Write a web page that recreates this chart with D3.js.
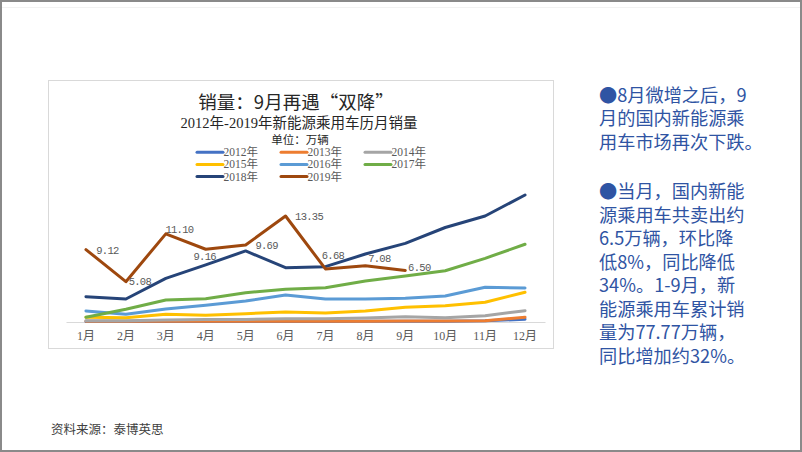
<!DOCTYPE html>
<html><head><meta charset="utf-8">
<script src="https://cdn.jsdelivr.net/npm/d3@7"></script>
<style>
html,body{margin:0;padding:0;background:#fff;}
svg{display:block;}
</style></head>
<body>
<svg id="c" width="802" height="452"></svg>
<script>
const months = ["1月","2月","3月","4月","5月","6月","7月","8月","9月","10月","11月","12月"];
const seriesNames = ["2012年","2013年","2014年","2015年","2016年","2017年","2018年","2019年"];
const s2012 = [0.05,0.05,0.06,0.06,0.07,0.07,0.07,0.08,0.1,0.1,0.15,0.34];
const s2013 = [0.1,0.08,0.1,0.1,0.1,0.1,0.1,0.1,0.12,0.12,0.15,0.6];
const s2014 = [0.17,0.15,0.25,0.3,0.33,0.4,0.42,0.5,0.67,0.55,0.8,1.42];
const s2015 = [0.6,0.55,0.97,0.84,1.05,1.26,1.13,1.39,1.85,2.05,2.48,3.74];
const s2016 = [1.39,0.97,1.64,2.1,2.64,3.4,2.9,2.9,2.98,3.27,4.37,4.28];
const s2017 = [0.6,1.6,2.77,2.93,3.69,4.12,4.32,5.16,5.79,6.46,8.02,9.79];
const s2018 = [3.19,2.9,5.5,7.2,8.95,6.84,6.97,8.56,9.9,11.9,13.35,16.0];
const s2019 = [9.12,5.08,11.10,9.16,9.69,13.35,6.68,7.08,6.50];
const labels2019 = ["9.12","5.08","11.10","9.16","9.69","13.35","6.68","7.08","6.50"];
const colors = ["#4472C4","#ED7D31","#A5A5A5","#FFC000","#5B9BD5","#70AD47","#264478","#9E480E"];
const allSeries = [s2012,s2013,s2014,s2015,s2016,s2017,s2018,s2019];
const yMax = 18;
// label offsets (style): [dx, dy] from the point to the label centre
const labelOffsets = [[21.5,1],[14,0],[13.6,-4],[-1,7.4],[21,0.7],[23.5,0.7],[7.5,-13],[14,-6.7],[14,-2]];

const svg = d3.select("#c");
svg.append("rect").attr("x",1).attr("y",1).attr("width",800).attr("height",450)
  .attr("fill","#fff").attr("stroke","#8a8a8a").attr("stroke-width",2);
svg.append("line").attr("x1",2).attr("x2",800).attr("y1",7.5).attr("y2",7.5).attr("stroke","#f2f2f2");

svg.append("rect").attr("x",48.5).attr("y",80.5).attr("width",505).attr("height",268)
  .attr("fill","#fff").attr("stroke","#d9d9d9");

const serifMix = "'Liberation Serif','Noto Sans CJK SC',serif";
const cjk = "'Noto Sans CJK SC','Noto Sans',sans-serif";
svg.append("text").attr("x",296).attr("y",101).attr("text-anchor","middle").attr("dominant-baseline","central")
  .attr("font-family",cjk).attr("font-size",18.5).attr("fill","#262626").text("销量：9月再遇“双降”");
svg.append("text").attr("x",299).attr("y",123).attr("text-anchor","middle").attr("dominant-baseline","central")
  .attr("font-family",serifMix).attr("font-size",14.5).attr("fill","#262626").text("2012年-2019年新能源乘用车历月销量");
svg.append("text").attr("x",300).attr("y",139.5).attr("text-anchor","middle").attr("dominant-baseline","central")
  .attr("font-family",serifMix).attr("font-size",11.5).attr("fill","#262626").text("单位：万辆");

const legX = [197,281,365];
const legY = [152.3,164.4,176.5];
seriesNames.forEach((n,i)=>{
  const cx = legX[i%3], cy = legY[Math.floor(i/3)];
  const g = svg.append("g");
  g.append("line").attr("x1",cx).attr("x2",cx+26).attr("y1",cy).attr("y2",cy)
    .attr("stroke",colors[i]).attr("stroke-width",3).attr("stroke-linecap","round");
  g.append("text").attr("x",cx+26.5).attr("y",cy).attr("dominant-baseline","central")
    .attr("font-family",serifMix).attr("font-size",11.5).attr("fill","#595959").text(n);
});

const x = d3.scaleBand().domain(months).range([66,545]);
const y = d3.scaleLinear().domain([0,yMax]).range([322,322-7.94*yMax]);
const cxm = m => x(m)+x.bandwidth()/2;

const axis = d3.axisBottom(x).tickSize(0).tickPadding(9);
const ax = svg.append("g").attr("transform","translate(0,322)").call(axis);
ax.select(".domain").attr("stroke","#d9d9d9").attr("stroke-width",1);
ax.selectAll("text").attr("font-family",serifMix).attr("font-size",12).attr("fill","#595959");

const line = d3.line().x((d,i)=>cxm(months[i])).y(d=>y(d));
allSeries.forEach((s,i)=>{
  svg.append("path").datum(s).attr("d",line).attr("fill","none")
    .attr("stroke",colors[i]).attr("stroke-width",3).attr("stroke-linejoin","round").attr("stroke-linecap","round");
});

s2019.forEach((v,i)=>{
  const px = cxm(months[i]), py = y(v);
  svg.append("text").attr("x",px+labelOffsets[i][0]).attr("y",py+labelOffsets[i][1])
    .attr("text-anchor","middle").attr("dominant-baseline","central")
    .attr("font-family","'Liberation Mono','DejaVu Sans Mono',monospace").attr("font-size",10.5)
    .attr("letter-spacing",-0.7).attr("fill","#595959").text(labels2019[i]);
});

svg.append("text").attr("x",51).attr("y",430).attr("dominant-baseline","central")
  .attr("font-family",serifMix).attr("font-size",12.5).attr("fill","#404040").text("资料来源：泰博英思");

const para = [
  ["●8月微增之后，9","月的国内新能源乘","用车市场再次下跌。"],
  ["●当月，国内新能","源乘用车共卖出约","6.5万辆，环比降","低8%，同比降低","34%。1-9月，新","能源乘用车累计销","量为77.77万辆，","同比增加约32%。"]
];
const startY = [93.5,190];
para.forEach((p,pi)=>{
  const t = svg.append("text").attr("x",599).attr("y",startY[pi]).attr("dominant-baseline","central")
    .attr("font-family",cjk).attr("font-size",18.2).attr("fill","#2F54A3");
  p.forEach((s,li)=>{
    t.append("tspan").attr("x",599).attr("y",startY[pi]+li*23.5).attr("dominant-baseline","central").text(s);
  });
});
</script>
</body></html>
